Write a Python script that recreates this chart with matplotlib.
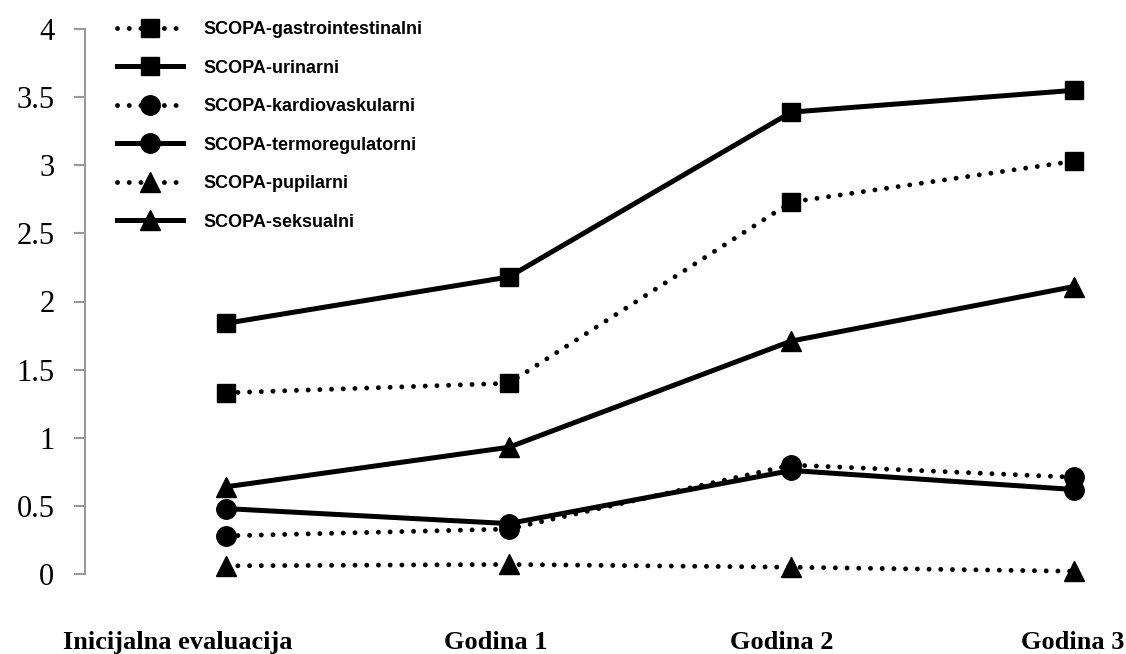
import matplotlib
matplotlib.use("Agg")
import matplotlib.pyplot as plt
import matplotlib.transforms as mtransforms

categories = ["Inicijalna evaluacija", "Godina 1", "Godina 2", "Godina 3"]

gastro = [1.33, 1.40, 2.73, 3.03]
urinarni = [1.84, 2.18, 3.39, 3.55]
kardio = [0.28, 0.33, 0.80, 0.71]
termo = [0.48, 0.37, 0.76, 0.62]
pupilarni = [0.06, 0.07, 0.05, 0.02]
seksualni = [0.64, 0.93, 1.71, 2.11]

series = [
    ("SCOPA-gastrointestinalni", gastro, "s", "dotted"),
    ("SCOPA-urinarni", urinarni, "s", "solid"),
    ("SCOPA-kardiovaskularni", kardio, "o", "dotted"),
    ("SCOPA-termoregulatorni", termo, "o", "solid"),
    ("SCOPA-pupilarni", pupilarni, "^", "dotted"),
    ("SCOPA-seksualni", seksualni, "^", "solid"),
]
marker_sizes = {"s": 13, "o": 14, "^": 14}

W, H = 1126, 654
fig = plt.figure(figsize=(W / 100, H / 100), dpi=100)
ax = fig.add_axes([85 / W, (H - 574) / H, (W - 85) / W, (574 - 29) / H])

x = list(range(len(categories)))
for label, vals, marker, style in series:
    if style == "dotted":
        ls, lw = (0, (0.01, 2.4)), 3.5
    else:
        ls, lw = "-", 3.6
    ax.plot(x, vals, linestyle=ls, color="black", linewidth=lw,
            dash_capstyle="round", marker=marker,
            markersize=marker_sizes[marker], label=label, clip_on=False)

ax.set_xlim(-0.4994, 3.184)
ax.set_ylim(0, 4)
ax.set_yticks([0, 0.5, 1, 1.5, 2, 2.5, 3, 3.5, 4])
ax.set_yticklabels(["0", "0.5", "1", "1.5", "2", "2.5", "3", "3.5", "4"],
                   fontfamily="Liberation Serif", fontsize=22)
ax.tick_params(axis="y", length=8, width=1.5, color="#9a9a9a", pad=14)

ax.set_xticks(x)
ax.set_xticklabels(categories, fontfamily="Liberation Serif",
                   fontweight="bold", fontsize=19)
ax.tick_params(axis="x", length=0, pad=41)
# category labels sit a little left of their points
shifts_px = [-48, -13, -10, -1]
for lab, dx in zip(ax.get_xticklabels(), shifts_px):
    lab.set_transform(lab.get_transform() +
                      mtransforms.ScaledTranslation(dx / 100, 0, fig.dpi_scale_trans))

for side in ["top", "right", "bottom"]:
    ax.spines[side].set_visible(False)
ax.spines["left"].set_color("#9a9a9a")
ax.spines["left"].set_linewidth(1.5)

leg = ax.legend(loc="upper left", bbox_to_anchor=(110 / W, 1 - 14 / H),
                bbox_transform=fig.transFigure, frameon=False, numpoints=1,
                handlelength=3.65, handletextpad=1.1, labelspacing=1.19,
                borderaxespad=0, prop={"family": "Liberation Sans",
                                       "weight": "bold", "size": 13})

fig.savefig("out.png", dpi=100)
